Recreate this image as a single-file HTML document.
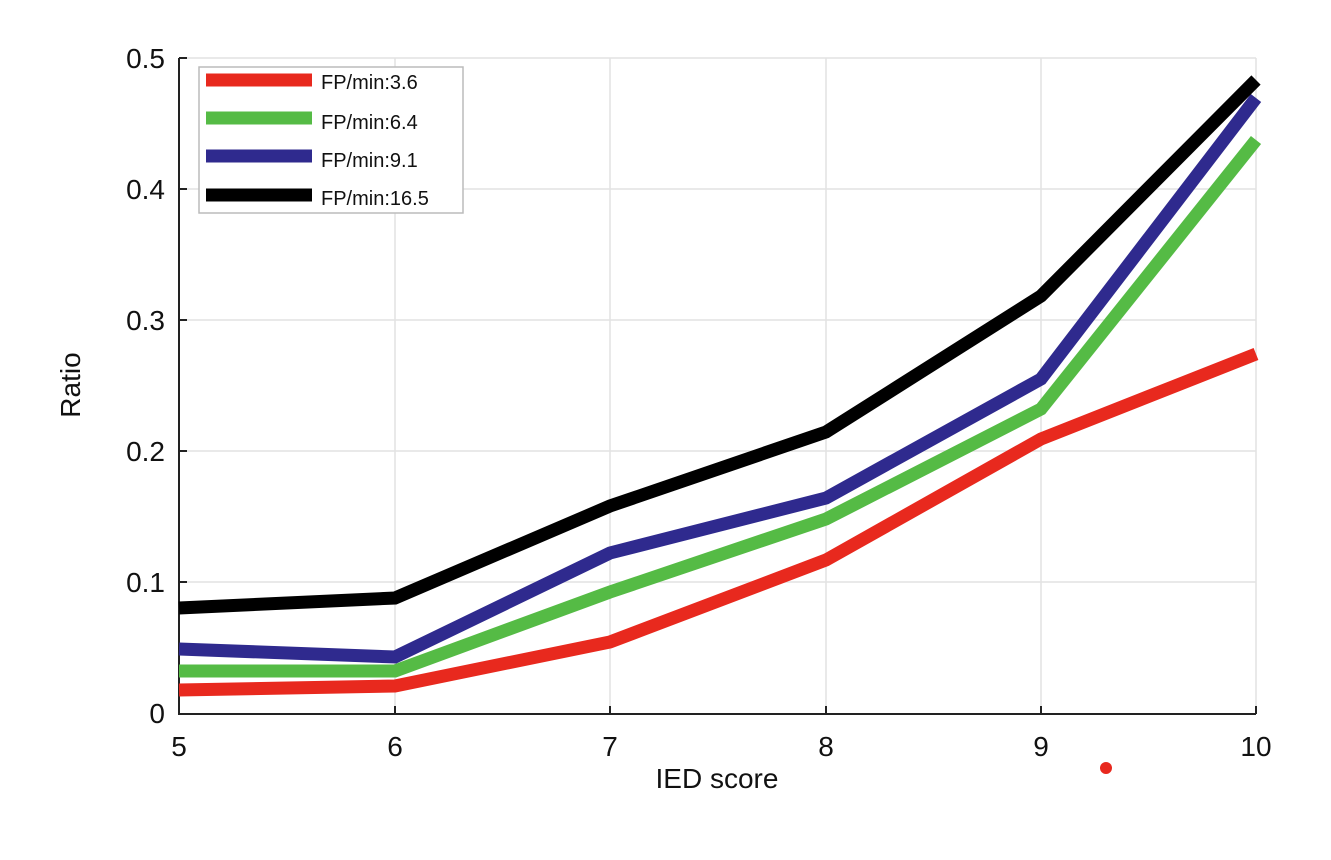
<!DOCTYPE html>
<html><head><style>body{margin:0;background:#fff}</style></head><body>
<svg width="1331" height="855" xmlns="http://www.w3.org/2000/svg" font-family="Liberation Sans, sans-serif">
<rect width="1331" height="855" fill="#fff"/>
<g stroke="#e2e2e2" stroke-width="1.5">
<line x1="395" y1="58" x2="395" y2="713"/><line x1="610" y1="58" x2="610" y2="713"/><line x1="826" y1="58" x2="826" y2="713"/><line x1="1041" y1="58" x2="1041" y2="713"/><line x1="1256" y1="58" x2="1256" y2="713"/>
<line x1="179" y1="58" x2="1256" y2="58"/><line x1="179" y1="189" x2="1256" y2="189"/><line x1="179" y1="320" x2="1256" y2="320"/><line x1="179" y1="451" x2="1256" y2="451"/><line x1="179" y1="582" x2="1256" y2="582"/>
</g>
<g stroke="#222" stroke-width="2" fill="none">
<path d="M179 58V714H1256"/>
<path d="M179 58h8M179 189h8M179 320h8M179 451h8M179 582h8M395 714v-8M610 714v-8M826 714v-8M1041 714v-8M1256 714v-8"/>
</g>
<g fill="none" stroke-width="13" stroke-linejoin="miter">
<polyline stroke="#e8291e" points="179,690 395,686 610,642 826,560 1041,439 1256,354"/>
<polyline stroke="#55bb45" points="179,671 395,671 610,592 826,519 1041,409 1256,140"/>
<polyline stroke="#2f2a8e" points="179,649 395,657 610,553 826,498 1041,379 1256,98"/>
<polyline stroke="#000" points="179,608 395,598 610,506 826,432 1041,296 1256,80"/>
</g>
<circle cx="1106" cy="768" r="6" fill="#e8291e"/>
<g font-size="28" fill="#111" text-anchor="end">
<text x="165" y="68">0.5</text><text x="165" y="199">0.4</text><text x="165" y="330">0.3</text><text x="165" y="461">0.2</text><text x="165" y="592">0.1</text><text x="165" y="723">0</text>
</g>
<g font-size="28" fill="#111" text-anchor="middle">
<text x="179" y="756">5</text><text x="395" y="756">6</text><text x="610" y="756">7</text><text x="826" y="756">8</text><text x="1041" y="756">9</text><text x="1256" y="756">10</text>
<text x="717" y="788">IED score</text>
<text transform="translate(80,385) rotate(-90)">Ratio</text>
</g>
<rect x="199" y="67" width="264" height="146" fill="#fff" stroke="#bbb" stroke-width="1.5"/>
<g stroke-width="13"><line x1="206" y1="80" x2="312" y2="80" stroke="#e8291e"/><line x1="206" y1="118" x2="312" y2="118" stroke="#55bb45"/><line x1="206" y1="156" x2="312" y2="156" stroke="#2f2a8e"/><line x1="206" y1="195" x2="312" y2="195" stroke="#000"/></g>
<g font-size="20" fill="#111"><text x="321" y="89">FP/min:3.6</text><text x="321" y="129">FP/min:6.4</text><text x="321" y="167">FP/min:9.1</text><text x="321" y="205">FP/min:16.5</text></g>
</svg>
</body></html>
